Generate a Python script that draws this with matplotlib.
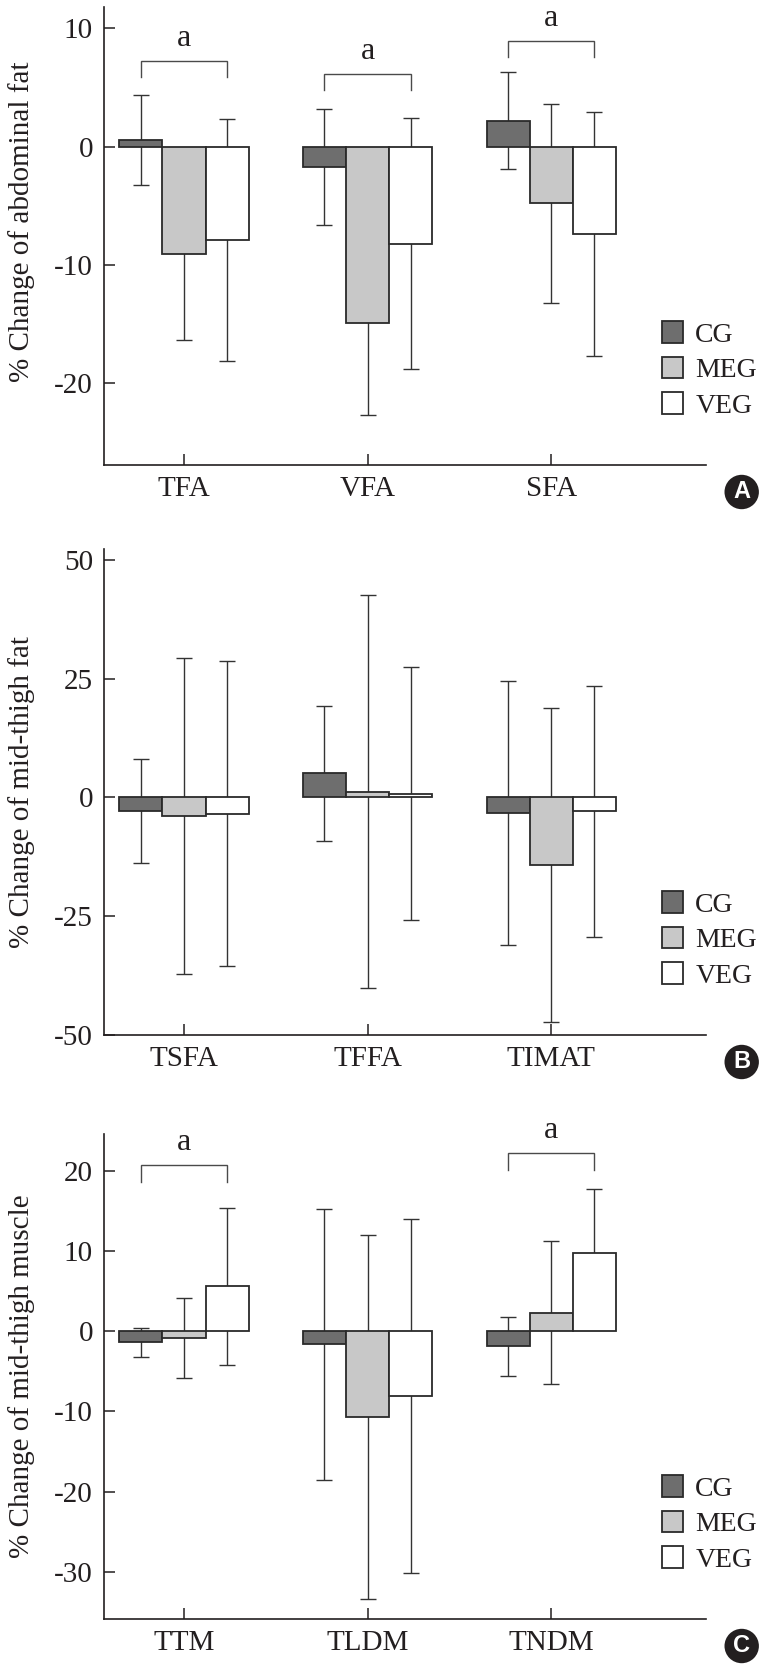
import matplotlib
matplotlib.use("Agg")
import matplotlib.pyplot as plt
import matplotlib.patches as mpatches
import numpy as np

plt.rcParams['font.family'] = ['Liberation Serif', 'DejaVu Serif']
plt.rcParams['axes.unicode_minus'] = False

groups = ['CG', 'MEG', 'VEG']
group_colors = ['#6e6e6e', '#c8c8c8', '#ffffff']

# panel A - abdominal fat
a_cats = ['TFA', 'VFA', 'SFA']
a_mean = {'CG': [0.6, -1.7, 2.2], 'MEG': [-9.1, -14.9, -4.8], 'VEG': [-7.9, -8.2, -7.4]}
a_sd = {'CG': [3.8, 4.9, 4.1], 'MEG': [7.2, 7.8, 8.4], 'VEG': [10.2, 10.6, 10.3]}
a_sig = [7.2, 6.1, 8.9]          # bracket height, None = no bracket
a_ticks = [10, 0, -10, -20]

# panel B - mid-thigh fat
b_cats = ['TSFA', 'TFFA', 'TIMAT']
b_mean = {'CG': [-2.9, 5.1, -3.2], 'MEG': [-3.9, 1.2, -14.2], 'VEG': [-3.4, 0.8, -2.9]}
b_sd = {'CG': [11.0, 14.2, 27.8], 'MEG': [33.2, 41.4, 33.1], 'VEG': [32.1, 26.6, 26.4]}
b_sig = [None, None, None]
b_ticks = [50, 25, 0, -25, -50]

# panel C - mid-thigh muscle
c_cats = ['TTM', 'TLDM', 'TNDM']
c_mean = {'CG': [-1.4, -1.6, -1.9], 'MEG': [-0.8, -10.7, 2.3], 'VEG': [5.6, -8.1, 9.7]}
c_sd = {'CG': [1.8, 16.9, 3.7], 'MEG': [5.0, 22.7, 8.9], 'VEG': [9.8, 22.1, 8.1]}
c_sig = [20.7, None, 22.2]
c_ticks = [20, 10, 0, -10, -20, -30]

ink = '#231f20'
W, H = 765, 1670
fig = plt.figure(figsize=(W / 100, H / 100), dpi=100)


def panel(top_px, bot_px, cats, mean, sd, sig, ticks, ylim, ylabel, label_y, letter):
    left, right = 104, 706
    ax = fig.add_axes([left / W, 1 - bot_px / H, (right - left) / W, (bot_px - top_px) / H])
    x = np.arange(len(cats))
    w = 0.235
    for i, g in enumerate(groups):
        xs = x + (i - 1) * w
        ax.errorbar(xs, mean[g], yerr=sd[g], fmt='none', ecolor='#333333',
                    elinewidth=1.0, capsize=6, capthick=1.0, zorder=1)
        ax.bar(xs, mean[g], width=w, color=group_colors[i], edgecolor='#2a2a2a',
               linewidth=1.3, zorder=2, label=g)
    ax.set_xlim(-0.436, 2.843)
    ax.set_ylim(*ylim)
    span = ylim[1] - ylim[0]
    for j, h in enumerate(sig):
        if h is None:
            continue
        x0, x1 = x[j] - w, x[j] + w
        leg = 0.034 * span
        ax.plot([x0, x0, x1, x1], [h - leg, h, h, h - leg], color='#4a4a4a', lw=1.0,
                zorder=3, solid_joinstyle='miter')
        ax.annotate('a', (x[j], h), xytext=(0, 11), textcoords='offset points',
                    ha='center', va='baseline', fontsize=23, color=ink)
    ax.set_yticks(ticks)
    ax.set_yticklabels([str(t) for t in ticks])
    ax.set_xticks(x)
    ax.set_xticklabels(cats)
    ax.tick_params(axis='y', direction='in', length=8, width=1.1, pad=8,
                   labelsize=21, colors=ink)
    ax.tick_params(axis='x', direction='in', length=8, width=1.1, pad=8,
                   labelsize=21, colors=ink)
    for s in ['top', 'right']:
        ax.spines[s].set_visible(False)
    for s in ['left', 'bottom']:
        ax.spines[s].set_linewidth(1.2)
        ax.spines[s].set_color(ink)
    ax.set_ylabel(ylabel, fontsize=21, color=ink)
    ax.yaxis.set_label_coords(-0.115, label_y)
    handles = [mpatches.Patch(facecolor=group_colors[i], edgecolor='#2a2a2a',
                              linewidth=1.3, label=g) for i, g in enumerate(groups)]
    mid = bot_px - 95
    ax.legend(handles=handles, loc='center left', frameon=False,
              bbox_to_anchor=((662 - left) / (right - left), (bot_px - mid) / (bot_px - top_px)),
              fontsize=20, handlelength=0.75, handleheight=0.8, handletextpad=0.45,
              labelspacing=0.33, borderpad=0, borderaxespad=0, labelcolor=ink)
    # panel letter
    cx, cy = 741.7, bot_px + 27
    circ = mpatches.Circle((cx / 100, (H - cy) / 100), 0.172, transform=fig.dpi_scale_trans,
                           facecolor=ink, edgecolor='none')
    fig.patches.append(circ)
    fig.text(cx / W, 1 - cy / H, letter, ha='center', va='center', color='white',
             fontsize=17, fontweight='bold', family='Liberation Sans')
    return ax


panel(7, 465, a_cats, a_mean, a_sd, a_sig, a_ticks, (-26.9, 11.8),
      '% Change of abdominal fat', 0.532, 'A')
panel(549, 1035, b_cats, b_mean, b_sd, b_sig, b_ticks, (-50, 52.3),
      '% Change of mid-thigh fat', 0.5, 'B')
panel(1134, 1619, c_cats, c_mean, c_sd, c_sig, c_ticks, (-35.9, 24.6),
      '% Change of mid-thigh muscle', 0.5, 'C')

fig.savefig('out.png', dpi=100)
